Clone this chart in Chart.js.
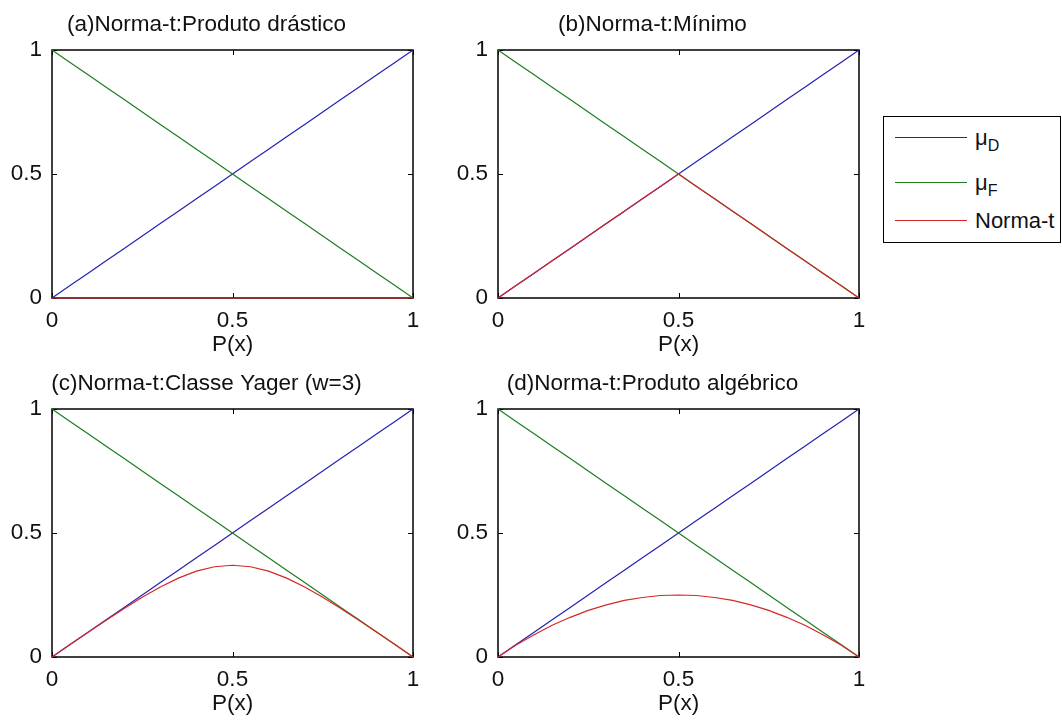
<!DOCTYPE html>
<html>
<head>
<meta charset="utf-8">
<script src="https://cdn.jsdelivr.net/npm/chart.js@4.4.1/dist/chart.umd.min.js"></script>
<style>
  body { margin: 0; background: #fff; }
  #fig { position: relative; width: 1062px; height: 720px; overflow: hidden; background: #fff;
         font-family: "Liberation Sans", Arial, sans-serif; }
  #fig canvas { position: absolute; }
  #legend { position: absolute; left: 883px; top: 116px; width: 176px; height: 125px;
            border: 1px solid #000; background: #fff; }
  .row { position: absolute; left: 0; width: 100%; height: 26px; }
  .swatch { position: absolute; left: 11px; width: 72px; top: 12px; border-top: 1.5px solid; }
  .lab { position: absolute; left: 91px; top: 0; font-size: 22px; line-height: 26px;
         white-space: nowrap; color: #111; }
  .lab sub { font-size: 16px; vertical-align: -6px; }
</style>
</head>
<body>
<div id="fig">
  <div id="legend"></div>
</div>
<script>
// x positions P(x)
const xs = [0, 0.05, 0.1, 0.15, 0.2, 0.25, 0.3, 0.35, 0.4, 0.45, 0.5,
            0.55, 0.6, 0.65, 0.7, 0.75, 0.8, 0.85, 0.9, 0.95, 1];
// membership curves
const muD = [0, 0.05, 0.1, 0.15, 0.2, 0.25, 0.3, 0.35, 0.4, 0.45, 0.5,
             0.55, 0.6, 0.65, 0.7, 0.75, 0.8, 0.85, 0.9, 0.95, 1];
const muF = [1, 0.95, 0.9, 0.85, 0.8, 0.75, 0.7, 0.65, 0.6, 0.55, 0.5,
             0.45, 0.4, 0.35, 0.3, 0.25, 0.2, 0.15, 0.1, 0.05, 0];
// t-norm in each panel
const tDrastic = [0, 0, 0, 0, 0, 0, 0, 0, 0, 0, 0, 0, 0, 0, 0, 0, 0, 0, 0, 0, 0];
const tMin = [0, 0.05, 0.1, 0.15, 0.2, 0.25, 0.3, 0.35, 0.4, 0.45, 0.5,
              0.45, 0.4, 0.35, 0.3, 0.25, 0.2, 0.15, 0.1, 0.05, 0];
const tYager = [0, 0.05, 0.1, 0.148, 0.196, 0.241, 0.282, 0.318, 0.346, 0.364, 0.37,
                0.364, 0.346, 0.318, 0.282, 0.241, 0.196, 0.148, 0.1, 0.05, 0];
const tProd = [0, 0.048, 0.09, 0.128, 0.16, 0.188, 0.21, 0.228, 0.24, 0.248, 0.25,
               0.248, 0.24, 0.228, 0.21, 0.188, 0.16, 0.128, 0.09, 0.048, 0];

const titles = ['(a)Norma-t:Produto drástico', '(b)Norma-t:Mínimo',
                '(c)Norma-t:Classe Yager (w=3)', '(d)Norma-t:Produto algébrico'];
const normaT = [tDrastic, tMin, tYager, tProd];
const seriesNames = ['μ', 'μ', 'Norma-t'];
const seriesSubs = ['D', 'F', ''];
const colors = ['#2222b4', '#1e7d1e', '#d42828'];
const tickValues = [0, 0.5, 1];
const xLabel = 'P(x)';

// plot-box top-left corners
const panels = [{ left: 52, top: 50 }, { left: 498, top: 50 }, { left: 52, top: 409 }, { left: 498, top: 409 }];
const PLOT_W = 361, PLOT_H = 248;
const AX_W = 52, TITLE_H = 50, XAX_H = 62, PAD_R = 20;
const FS = 22.5;

Chart.defaults.font.family = '"Liberation Sans", Arial, sans-serif';
Chart.defaults.color = '#111';

// MATLAB style box with inward ticks
const boxPlugin = {
  id: 'matlabBox',
  beforeDatasetsDraw(chart) {
    const { ctx, chartArea: a, scales: { x, y } } = chart;
    ctx.save();
    ctx.strokeStyle = '#000';
    ctx.lineWidth = 1.5;
    ctx.strokeRect(a.left, a.top, a.right - a.left, a.bottom - a.top);
    ctx.lineWidth = 1;
    const len = 5;
    ctx.beginPath();
    x.ticks.forEach(t => {
      const px = Math.round(x.getPixelForValue(t.value)) + 0.5;
      ctx.moveTo(px, a.bottom); ctx.lineTo(px, a.bottom - len);
      ctx.moveTo(px, a.top); ctx.lineTo(px, a.top + len);
    });
    y.ticks.forEach(t => {
      const py = Math.round(y.getPixelForValue(t.value)) + 0.5;
      ctx.moveTo(a.left, py); ctx.lineTo(a.left + len, py);
      ctx.moveTo(a.right, py); ctx.lineTo(a.right - len, py);
    });
    ctx.stroke();
    ctx.restore();
  }
};

function pts(ys) { return xs.map((x, i) => ({ x, y: ys[i] })); }

const fig = document.getElementById('fig');

panels.forEach((p, k) => {
  const canvas = document.createElement('canvas');
  canvas.width = AX_W + PLOT_W + PAD_R;
  canvas.height = TITLE_H + PLOT_H + XAX_H;
  canvas.style.left = (p.left - AX_W) + 'px';
  canvas.style.top = (p.top - TITLE_H) + 'px';
  fig.appendChild(canvas);

  const series = [muD, muF, normaT[k]];
  new Chart(canvas, {
    type: 'line',
    data: {
      datasets: series.map((ys, i) => ({
        label: seriesNames[i] + seriesSubs[i],
        data: pts(ys),
        borderColor: colors[i],
        borderWidth: 1.2,
        pointRadius: 0,
        tension: 0,
        clip: false,
        order: 3 - i
      }))
    },
    options: {
      responsive: false,
      animation: false,
      devicePixelRatio: 1,
      layout: { padding: { right: PAD_R } },
      plugins: {
        legend: { display: false },
        tooltip: { enabled: false },
        title: {
          display: true, text: titles[k], color: '#111',
          font: { size: FS, weight: 'normal', lineHeight: 1 },
          padding: { top: 14, bottom: 13.5 }
        }
      },
      scales: {
        x: {
          type: 'linear', min: 0, max: 1,
          grid: { display: false, drawTicks: false },
          border: { display: false },
          afterBuildTicks: s => { s.ticks = tickValues.map(v => ({ value: v })); },
          afterFit: s => { s.height = XAX_H; },
          ticks: { padding: 9, font: { size: FS }, color: '#111', maxRotation: 0,
                   callback: v => String(v) },
          title: { display: true, text: xLabel, color: '#111',
                   font: { size: FS, lineHeight: 1 }, padding: { top: 0, bottom: 4 } }
        },
        y: {
          type: 'linear', min: 0, max: 1,
          grid: { display: false, drawTicks: false },
          border: { display: false },
          afterBuildTicks: s => { s.ticks = tickValues.map(v => ({ value: v })); },
          afterFit: s => { s.width = AX_W; },
          ticks: { padding: 10, font: { size: FS }, color: '#111',
                   callback: v => String(v) }
        }
      }
    },
    plugins: [boxPlugin]
  });
});

// legend (HTML so the subscripts stay real text)
const legend = document.getElementById('legend');
const rowTops = [8, 53, 91];
seriesNames.forEach((name, i) => {
  const row = document.createElement('div');
  row.className = 'row';
  row.style.top = rowTops[i] + 'px';
  const sw = document.createElement('span');
  sw.className = 'swatch';
  sw.style.borderColor = colors[i];
  const lab = document.createElement('span');
  lab.className = 'lab';
  lab.textContent = name;
  if (seriesSubs[i]) {
    const sub = document.createElement('sub');
    sub.textContent = seriesSubs[i];
    lab.appendChild(sub);
  }
  row.appendChild(sw);
  row.appendChild(lab);
  legend.appendChild(row);
});
</script>
</body>
</html>
